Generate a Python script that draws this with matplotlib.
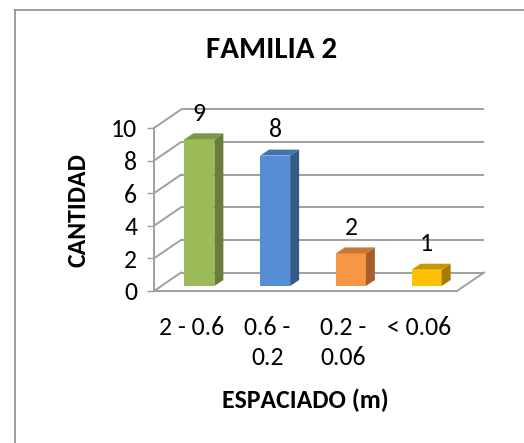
import matplotlib.pyplot as plt
from matplotlib.lines import Line2D

plt.rcParams['font.family'] = ['Carlito', 'DejaVu Sans']

# Data
categories = ['2 - 0.6', '0.6 -\n0.2', '0.2 -\n0.06', '< 0.06']
counts = [9, 8, 2, 1]
front_colors = ['#9BBB59', '#558ED5', '#F79646', '#FFC000']
side_colors = ['#687E39', '#355A8A', '#A65E2D', '#A67C00']
top_colors = ['#7C9846', '#4471B0', '#C8773A', '#C99700']

W, H = 524, 443
fig = plt.figure(figsize=(W / 100, H / 100), dpi=100)

# front plane of the 3D box: x from 154 to 457 px, y (0..10) from 291 to 128 px
ax = fig.add_axes([154 / W, (H - 291) / H, 303 / W, 163 / H])
ax.set_xlim(-0.5, 3.5)
ax.set_ylim(0, 10)

px_x = 303 / 4.0   # pixels per category
px_y = 163 / 10.0  # pixels per unit

# depth offset of the back wall, and of the bars inside the box
ddx, ddy = 27 / px_x, 18.5 / px_y
bdx, bdy = 7.5 / px_x, 5 / px_y
sdx, sdy = 9 / px_x, 6 / px_y
bar_w = 30 / px_x

grid_c = '#A0A0A0'
lw = 1.4
fs = 18.5

# back wall gridlines and left wall diagonals
for v in range(0, 11, 2):
    ax.plot([-0.5 + ddx, 3.5 + ddx], [v + ddy, v + ddy], color=grid_c, lw=lw,
            clip_on=False, zorder=1, solid_capstyle='butt')
    ax.plot([-0.5, -0.5 + ddx], [v, v + ddy], color=grid_c, lw=lw,
            clip_on=False, zorder=1)
# right edge of the floor
ax.plot([3.5, 3.5 + ddx], [0, ddy], color=grid_c, lw=lw, clip_on=False, zorder=1)

# bars: front face, right side and top
for i, v in enumerate(counts):
    x0 = i + bdx - bar_w / 2
    x1 = x0 + bar_w
    y0 = bdy
    y1 = bdy + v
    ax.bar(i + bdx, v, width=bar_w, bottom=bdy, color=front_colors[i],
           clip_on=False, zorder=3)
    ax.fill([x1, x1 + sdx, x1 + sdx, x1], [y0, y0 + sdy, y1 + sdy, y1],
            color=side_colors[i], clip_on=False, zorder=3, lw=0)
    ax.fill([x0, x0 + sdx, x1 + sdx, x1], [y1, y1 + sdy, y1 + sdy, y1],
            color=top_colors[i], clip_on=False, zorder=3, lw=0)
    ax.text(i + bdx, y1 + 26 / px_y, str(v), ha='center', va='center',
            fontsize=fs, color='black', zorder=4)

# axes styling
for s in ['top', 'right']:
    ax.spines[s].set_visible(False)
for s in ['left', 'bottom']:
    ax.spines[s].set_color(grid_c)
    ax.spines[s].set_linewidth(lw)
ax.patch.set_visible(False)
ax.set_yticks(range(0, 11, 2))
ax.tick_params(axis='y', length=5, width=1.0, color=grid_c, pad=7,
               labelsize=fs)
ax.set_xticks(range(len(categories)))
ax.set_xticklabels(categories, linespacing=1.38)
ax.tick_params(axis='x', length=0, pad=18, labelsize=fs)

# title and axis titles
fig.text(272 / W, 1 - 50 / H, 'FAMILIA 2', ha='center', va='center',
         fontsize=22.3, fontweight='bold')
fig.text(78 / W, 1 - 210 / H, 'CANTIDAD', ha='center', va='center',
         rotation=90, fontsize=fs, fontweight='bold')
fig.text(305 / W, 1 - 400 / H, 'ESPACIADO (m)', ha='center', va='center',
         fontsize=fs, fontweight='bold')

# chart frame
frame_c = '#8C8C8C'
fig.add_artist(Line2D([15 / W, 1], [1 - 10 / H, 1 - 10 / H], color=frame_c, lw=1.2))
fig.add_artist(Line2D([15 / W, 15 / W], [0, 1 - 10 / H], color=frame_c, lw=1.2))

fig.savefig('out.png', dpi=100)
